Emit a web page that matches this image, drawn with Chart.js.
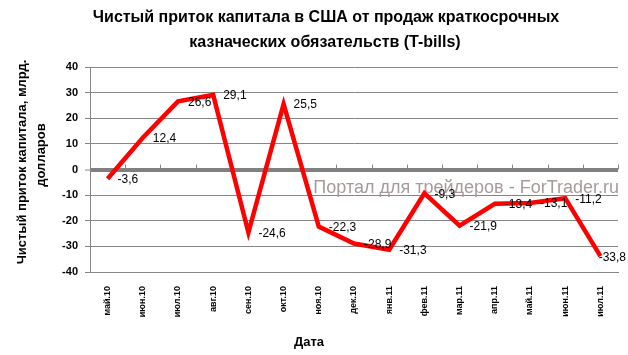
<!DOCTYPE html>
<html>
<head>
<meta charset="utf-8">
<script src="https://cdn.jsdelivr.net/npm/chart.js@4/dist/chart.umd.min.js"></script>
<style>
  html, body { margin: 0; padding: 0; background: #ffffff; }
  #wrap { width: 628px; height: 355px; }
</style>
</head>
<body>
<div id="wrap"><canvas id="c" width="628" height="355"></canvas></div>
<script>
// ---- data ----
const categories = ['май.10','июн.10','июл.10','авг.10','сен.10','окт.10','ноя.10','дек.10','янв.11','фев.11','мар.11','апр.11','май.11','июн.11','июл.11'];
const inflow = [-3.6, 12.4, 26.6, 29.1, -24.6, 25.5, -22.3, -28.9, -31.3, -9.3, -21.9, -13.4, -13.1, -11.2, -33.8];
const yMin = -40;
const yMax = 40;
const yStep = 10;
const titleLines = ['Чистый приток капитала в США от продаж краткосрочных', 'казначеских обязательств (T-bills)'];
const yTitleLines = ['Чистый приток капитала, млрд.', 'долларов'];
const xTitle = 'Дата';
const watermark = 'Портал для трейдеров - ForTrader.ru';

const FONT = '"Liberation Sans", Arial, sans-serif';
Chart.defaults.font.family = FONT;

function fmt(v) { return v.toFixed(1).replace('.', ','); }

const decorPlugin = {
  id: 'decor',
  beforeDatasetsDraw(chart) {
    const ctx = chart.ctx;
    const xs = chart.scales.x, ys = chart.scales.y;
    const zeroY = ys.getPixelForValue(0);
    // small tick marks on the zero axis at category boundaries
    ctx.save();
    ctx.strokeStyle = '#868686';
    ctx.lineWidth = 1;
    const n = categories.length;
    for (let i = 0; i <= n; i++) {
      const x = Math.round(xs.left + i * (xs.right - xs.left) / n) + 0.5;
      ctx.beginPath();
      ctx.moveTo(x, zeroY - 5);
      ctx.lineTo(x, zeroY);
      ctx.stroke();
    }
    // watermark
    ctx.fillStyle = '#a89a9a';
    ctx.font = '18px ' + FONT;
    ctx.textAlign = 'right';
    ctx.textBaseline = 'middle';
    ctx.fillText(watermark, 619, 188);
    ctx.restore();
  },
  afterDatasetsDraw(chart) {
    const ctx = chart.ctx;
    const meta = chart.getDatasetMeta(0);
    ctx.save();
    ctx.fillStyle = '#000000';
    ctx.font = '12px ' + FONT;
    ctx.textAlign = 'left';
    ctx.textBaseline = 'middle';
    meta.data.forEach((el, i) => {
      const txt = fmt(inflow[i]);
      const w = ctx.measureText(txt).width;
      let x = el.x + 10;
      let y = el.y + 1;
      if (x + w > chart.width - 2) { x = chart.width - 2 - w; y = el.y + 2; }
      ctx.fillText(txt, x, y);
    });
    ctx.restore();
  },
  afterDraw(chart) {
    const ctx = chart.ctx;
    ctx.save();
    ctx.fillStyle = '#000000';
    ctx.textAlign = 'center';
    ctx.textBaseline = 'middle';
    // chart title
    ctx.font = 'bold 16px ' + FONT;
    ctx.fillText(titleLines[0], 326, 18);
    ctx.fillText(titleLines[1], 325, 43);
    // x axis title
    ctx.font = 'bold 13px ' + FONT;
    ctx.fillText(xTitle, 309, 342);
    // y axis title (rotated)
    ctx.save();
    ctx.translate(22, 162);
    ctx.rotate(-Math.PI / 2);
    ctx.font = 'bold 13px ' + FONT;
    ctx.fillText(yTitleLines[0], 0, 0);
    ctx.restore();
    ctx.save();
    ctx.translate(41, 155);
    ctx.rotate(-Math.PI / 2);
    ctx.font = 'bold 13px ' + FONT;
    ctx.fillText(yTitleLines[1], 0, 0);
    ctx.restore();
    ctx.restore();
  }
};

new Chart(document.getElementById('c'), {
  type: 'line',
  data: {
    labels: categories,
    datasets: [{
      data: inflow,
      borderColor: '#ff0000',
      borderWidth: 4.5,
      pointRadius: 0,
      pointHoverRadius: 0,
      tension: 0,
      fill: false,
      borderJoinStyle: 'miter',
      borderCapStyle: 'butt'
    }]
  },
  options: {
    responsive: false,
    animation: false,
    devicePixelRatio: 1,
    layout: { padding: { top: 67, right: 10, left: 0, bottom: 0 } },
    plugins: {
      legend: { display: false },
      title: { display: false },
      tooltip: { enabled: false }
    },
    scales: {
      x: {
        type: 'category',
        offset: true,
        grid: { display: false },
        border: { display: true, color: '#868686', width: 1 },
        ticks: {
          autoSkip: false,
          maxRotation: 90,
          minRotation: 90,
          padding: 6,
          color: '#000000',
          font: { size: 9, weight: 'bold' }
        },
        afterFit(scale) { scale.height = 83; }
      },
      y: {
        min: yMin,
        max: yMax,
        grid: {
          color: (c) => (c.tick && c.tick.value === 0) ? '#808080' : '#868686',
          lineWidth: (c) => (c.tick && c.tick.value === 0) ? 4 : 1,
          tickLength: 5,
          tickWidth: 1,
          tickColor: '#868686',
          drawTicks: true
        },
        border: { display: true, color: '#868686', width: 1 },
        ticks: {
          stepSize: yStep,
          padding: 7,
          color: '#000000',
          font: { size: 11, weight: 'bold' },
          callback: (v) => String(v)
        },
        afterFit(scale) { scale.width = 90; }
      }
    }
  },
  plugins: [decorPlugin]
});
</script>
</body>
</html>
